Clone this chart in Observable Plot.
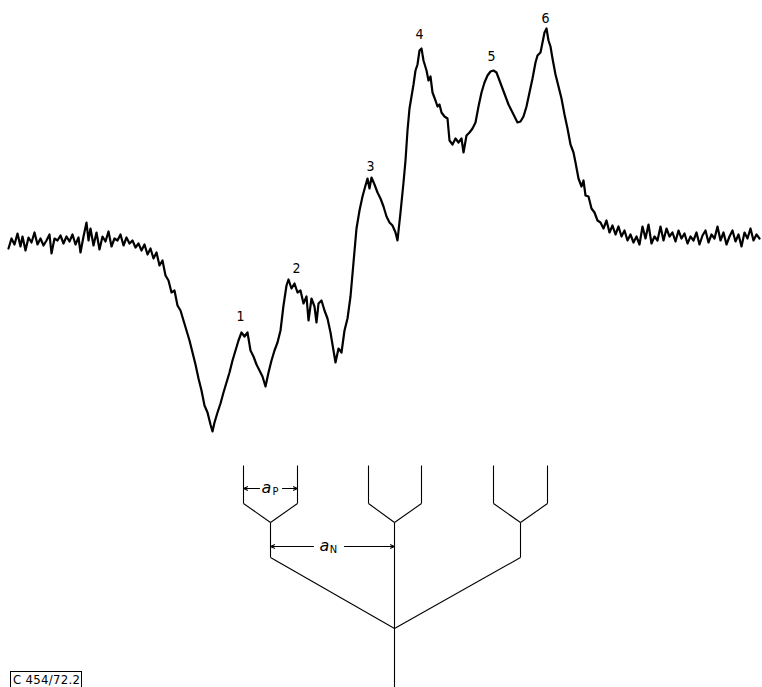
<!DOCTYPE html>
<html>
<head>
<meta charset="utf-8">
<script src="https://cdn.jsdelivr.net/npm/d3@7"></script>
<script src="https://cdn.jsdelivr.net/npm/@observablehq/plot@0.6"></script>
<style>
  html, body { margin: 0; padding: 0; background: #fff; }
  #wrap { position: relative; width: 762px; height: 687px; overflow: hidden; background: #fff; }
  #wrap svg { display: block; }
  #code {
    position: absolute; left: 10px; top: 671px; width: 68px; height: 20px;
    border: 1px solid #000; border-bottom: none;
    font-family: "Liberation Sans Narrow", "DejaVu Sans Condensed", sans-serif;
    font-size: 13px; line-height: 15px; padding-left: 2px; color: #000; letter-spacing: 0.3px;
  }
</style>
</head>
<body>
<div id="wrap"><div id="spec"></div><div id="sticks"></div><div id="code">C 454/72.2</div></div>
<script>
// ESR spectrum: field position (arbitrary units) and derivative signal (arbitrary units)
const field = [8,11,14,17,20,22,25,28,31,34,37,40,43,46,49,51,54,57,60,63,66,69,72,75,78,80,83,86,88,90,93,96,99,102,105,108,111,114,117,120,123,126,129,132,135,138,141,144,147,150,153,156,159,162,165,168,171,174,177,180,183,186,189,192,195,198,201,204,207,210,212,214,217,220,223,226,229,232,235,238,241,244,247,250,253,256,259,262,265,268,271,274,277,280,283,286,288,291,294,297,300,303,306,308,311,314,316,318,321,324,327,330,333,335,338,341,344,347,350,353,356,359,362,365,367,369,371,374,377,380,383,386,389,392,395,397,400,403,405,407,409,411,413,415,417,419,421,423,426,428,430,432,435,437,439,441,444,447,449,452,455,458,461,463,466,469,472,475,478,481,484,487,490,493,496,499,502,505,508,511,514,517,520,523,526,529,532,535,537,540,542,544,546,548,550,552,555,558,561,564,567,570,573,575,578,581,583,585,588,591,594,597,600,603,606,609,612,615,618,621,624,627,630,633,636,639,642,645,648,651,654,657,660,663,666,669,672,675,678,681,684,687,690,693,696,699,702,705,708,711,714,717,720,723,726,729,732,735,738,741,744,747,750,753,756,759];
const signal = [-8,2,-4,7,-6,4,-10,3,-2,8,-4,2,-5,0,6,-13,2,0,5,-3,4,-1,6,-4,3,-12,4,18,0,12,-5,8,-9,4,-1,9,-6,2,0,6,-5,3,-3,0,-7,-3,-10,-4,-14,-8,-18,-12,-25,-20,-35,-40,-52,-50,-65,-70,-80,-90,-100,-112,-124,-138,-150,-165,-172,-184,-191,-182,-172,-163,-152,-142,-132,-120,-110,-100,-92,-96,-92,-110,-116,-124,-130,-136,-146,-132,-120,-110,-102,-90,-65,-45,-39,-48,-43,-52,-50,-63,-56,-80,-58,-66,-82,-63,-60,-70,-78,-92,-110,-122,-108,-112,-90,-78,-56,-22,12,30,44,55,62,52,63,56,48,42,34,24,18,15,8,0,28,58,80,110,132,144,156,170,176,190,192,180,170,160,164,148,140,134,136,128,124,122,100,96,102,98,102,88,105,108,112,118,134,148,158,165,169,170,168,160,152,144,136,130,124,118,119,124,134,148,162,178,185,188,198,208,212,200,194,182,166,154,142,126,112,96,88,78,62,54,60,45,44,32,28,20,18,12,20,8,15,6,14,4,10,0,6,-2,4,-4,14,2,16,-3,4,0,14,0,12,4,8,-1,10,2,7,-3,4,0,8,-4,5,10,-2,6,2,14,0,8,-4,4,10,-1,6,-6,8,2,12,0,6,2];

// hyperfine line labels
const peakLabels = ["1", "2", "3", "4", "5", "6"];
const peakField  = [240, 296, 370, 419, 491, 545];
const peakSignal = [-76, -28, 74, 206, 184, 222];

// stick diagram: six lines, nitrogen triplet each split into phosphorus doublet
const lineFields   = [243, 297, 368, 421, 493, 547];
const groupCenters = [270, 394, 520];
const centerField  = 394;
// diagram levels (top to bottom)
const lvTop = 15, lvSplit = 53, lvGroup = 72, lvBranch = 107, lvRoot = 178, lvBottom = 237;
const lvAP = 38, lvAN = 96;

(function () {
  const W = 762;
  const spectrum = field.map((f, i) => ({f, s: signal[i]}));
  const labels = peakLabels.map((t, i) => ({t, f: peakField[i], s: peakSignal[i]}));
  const font = '"Liberation Sans Narrow", "DejaVu Sans Condensed", sans-serif';

  const specPlot = Plot.plot({
    width: W, height: 450,
    margin: 0,
    x: {domain: [0, W], axis: null},
    y: {domain: [-210, 240], axis: null},
    style: {background: "#fff"},
    marks: [
      Plot.line(spectrum, {x: "f", y: "s", stroke: "#000", strokeWidth: 2.2, strokeLinejoin: "round"}),
      Plot.text(labels, {x: "f", y: "s", text: "t", fontSize: 14, fontFamily: font, fill: "#000"})
    ]
  });
  document.getElementById("spec").appendChild(specPlot);

  const segs = [];
  lineFields.forEach((x, i) => {
    const g = groupCenters[Math.floor(i / 2)];
    segs.push({x1: x, y1: lvTop, x2: x, y2: lvSplit});
    segs.push({x1: x, y1: lvSplit, x2: g, y2: lvGroup});
  });
  groupCenters.forEach((g) => {
    if (g === centerField) {
      segs.push({x1: g, y1: lvGroup, x2: g, y2: lvBottom});
    } else {
      segs.push({x1: g, y1: lvGroup, x2: g, y2: lvBranch});
      segs.push({x1: g, y1: lvBranch, x2: centerField, y2: lvRoot});
    }
  });

  const aPmid = (lineFields[0] + lineFields[1]) / 2;
  const aNmid = (groupCenters[0] + centerField) / 2 - 4;
  const arrows = [
    {x1: aPmid - 11, x2: lineFields[0], y: lvAP},
    {x1: aPmid + 12, x2: lineFields[1], y: lvAP},
    {x1: aNmid - 15, x2: groupCenters[0], y: lvAN},
    {x1: aNmid + 16, x2: centerField, y: lvAN}
  ];
  const symA = [{x: aPmid - 4, y: lvAP - 1}, {x: aNmid - 4, y: lvAN - 1}];
  const symSub = [{x: aPmid + 5, y: lvAP + 3, t: "P"}, {x: aNmid + 5, y: lvAN + 3, t: "N"}];

  const stickPlot = Plot.plot({
    width: W, height: 237,
    margin: 0,
    x: {domain: [0, W], axis: null},
    y: {domain: [0, 237], range: [0, 237], axis: null},
    style: {background: "#fff"},
    marks: [
      Plot.link(segs, {x1: "x1", y1: "y1", x2: "x2", y2: "y2", stroke: "#000", strokeWidth: 1.1}),
      Plot.arrow(arrows, {x1: "x1", x2: "x2", y1: "y", y2: "y", stroke: "#000", strokeWidth: 1.1, headLength: 6, headAngle: 50}),
      Plot.text(symA, {x: "x", y: "y", text: () => "a", fontSize: 16, fontStyle: "italic", fontFamily: "DejaVu Sans, sans-serif", fill: "#000"}),
      Plot.text(symSub, {x: "x", y: "y", text: "t", fontSize: 11, fontFamily: font, fill: "#000"})
    ]
  });
  document.getElementById("sticks").appendChild(stickPlot);
})();
</script>
</body>
</html>
